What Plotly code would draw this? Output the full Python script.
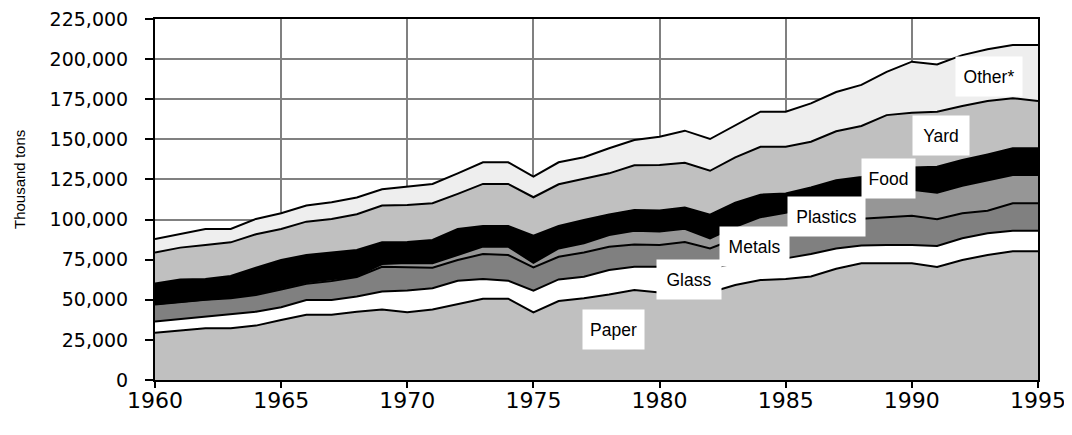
import plotly.graph_objects as go

years = list(range(1960, 1996))

paper = [29500, 30800, 32200, 32200, 33900, 37400, 40700, 40700, 42600, 44000,
         42200, 43900, 47400, 50700, 50700, 42200, 49200, 51000, 53300, 56100,
         54500, 56000, 54500, 59200, 62300, 63000, 64500, 69300, 72700, 72700,
         72700, 70500, 74800, 77900, 80300, 80300]
glass = [6900, 7200, 7300, 8800, 8700, 7900, 9100, 9200, 9400, 11100,
         13600, 13300, 14500, 12200, 11200, 13500, 13500, 13400, 15200, 14500,
         16100, 15500, 15000, 13500, 12200, 12800, 14000, 12700, 11100, 11400,
         11400, 13000, 13500, 13500, 12700, 12700]
metals = [10600, 10500, 10500, 10000, 10400, 11100, 10200, 11800, 12200, 15500,
          14500, 12800, 12900, 15600, 16000, 14500, 14100, 15100, 14600, 13900,
          13500, 14500, 12500, 15300, 17500, 18200, 18500, 17700, 16700, 17400,
          18200, 16700, 15600, 14100, 17100, 17100]
plastics = [400, 400, 400, 600, 700, 800, 900, 1100, 600, 1700,
            2600, 2700, 3100, 4600, 5200, 2900, 5200, 5700, 7300, 8500,
            8500, 8300, 6300, 7500, 9500, 10300, 11000, 12000, 14000, 14300,
            16200, 16500, 17200, 19100, 17700, 17700]
food = [12800, 13800, 12600, 13200, 16300, 17600, 17000, 16600, 16200, 13500,
        13100, 14600, 16200, 12900, 12900, 16800, 14000, 14500, 12800, 12900,
        13000, 13200, 14700, 15000, 14000, 12000, 12000, 12800, 12000, 13700,
        14000, 16200, 16000, 16000, 16600, 16600]
yard = [19200, 19800, 21200, 21000, 20800, 19300, 20800, 21000, 22300, 22900,
        23100, 22900, 21900, 26200, 26200, 24000, 26000, 25600, 25600, 27900,
        28400, 27900, 27400, 28300, 29900, 29100, 28500, 30500, 31800, 35600,
        34100, 34300, 33700, 33300, 31200, 29500]
other = [8500, 8500, 9900, 8300, 9600, 9800, 10000, 10400, 10400, 10200,
         11400, 12000, 12800, 13500, 13500, 12800, 13700, 13500, 15600, 15800,
         17600, 20000, 19800, 19700, 21800, 21800, 23900, 24500, 25600, 27000,
         31800, 29500, 31700, 32200, 33200, 34900]

series = [
    ("Paper", paper, "#c0c0c0"),
    ("Glass", glass, "#ffffff"),
    ("Metals", metals, "#808080"),
    ("Plastics", plastics, "#969696"),
    ("Food", food, "#000000"),
    ("Yard", yard, "#c0c0c0"),
    ("Other*", other, "#eeeeee"),
]

# label name, centre year, centre value, box width
labels = [
    ("Paper", 1978.17, 31500, 59),
    ("Glass", 1981.17, 62900, 62),
    ("Metals", 1983.78, 83500, 67),
    ("Plastics", 1986.6, 101600, 75),
    ("Food", 1989.09, 125900, 51),
    ("Yard", 1991.15, 152700, 54),
    ("Other*", 1993.06, 188900, 64),
]

FONT = "Liberation Sans, Arial, sans-serif"
TICKFONT = "DejaVu Sans, sans-serif"

fig = go.Figure()
for name, vals, col in series:
    fig.add_trace(go.Scatter(
        x=years, y=vals, name=name, mode="lines", stackgroup="one",
        line=dict(color="black", width=2), fillcolor=col,
        hoverinfo="x+y+name",
    ))

for name, xv, yv, w in labels:
    fig.add_annotation(
        x=xv, y=yv, xref="x", yref="y", text=name, showarrow=False,
        bgcolor="white", width=w, height=37, align="center", valign="middle",
        font=dict(family=FONT, size=17.5, color="black"),
        xanchor="center", yanchor="middle",
    )

fig.add_annotation(
    text="Thousand tons", xref="paper", yref="paper",
    x=(19 - 155) / 883, y=(380 - 180) / 361, showarrow=False, textangle=-90,
    xanchor="center", yanchor="middle",
    font=dict(family=FONT, size=15, color="black"),
)

# page body has an 8px default margin, so the figure is drawn at (8, 8)
fig.update_layout(
    width=1064, height=427,
    margin=dict(l=147, r=34, t=11, b=55, autoexpand=False),
    paper_bgcolor="white", plot_bgcolor="white",
    showlegend=False,
    font=dict(family=FONT, size=19, color="black"),
)
fig.update_xaxes(
    range=[1960, 1995], tickmode="array", tickvals=list(range(1960, 1996, 5)),
    showgrid=True, gridcolor="#808080", gridwidth=1.5,
    showline=True, linecolor="black", linewidth=2, mirror=True,
    ticks="outside", ticklen=6, tickwidth=2, tickcolor="black",
    ticklabelstandoff=-6, zeroline=False, automargin=False,
    ticklabeloverflow="allow",
    tickfont=dict(family=TICKFONT, size=22, color="black"),
)
fig.update_yaxes(
    range=[0, 225000], dtick=25000, tickformat=",",
    showgrid=True, gridcolor="#808080", gridwidth=1.5,
    showline=True, linecolor="black", linewidth=2, mirror=True,
    ticks="outside", ticklen=8, tickwidth=2, tickcolor="black",
    ticklabelstandoff=13, zeroline=False, automargin=False,
    ticklabeloverflow="allow",
    tickfont=dict(family=TICKFONT, size=19, color="black"),
)

fig.write_html("out.html")
